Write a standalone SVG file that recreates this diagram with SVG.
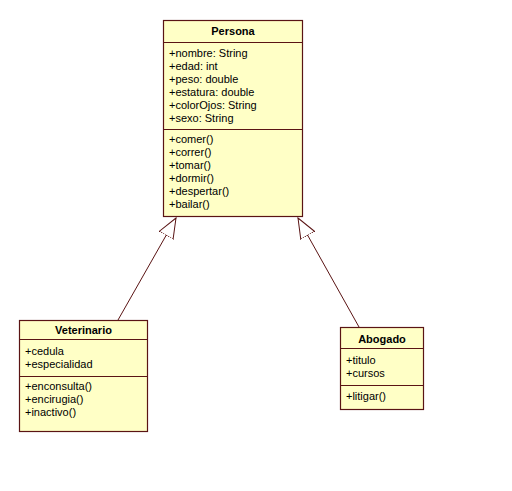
<svg xmlns="http://www.w3.org/2000/svg" width="512" height="491" viewBox="0 0 512 491">
<style>
.box{fill:#ffffc6;stroke:#5a1414;stroke-width:1.2}
.sep{stroke:#5a1414;stroke-width:1.2}
.t{font-family:"Liberation Sans",Arial,sans-serif;font-size:11px;fill:#000}
.b{font-weight:bold;text-anchor:middle}
.c{stroke:#5a1414;stroke-width:1;fill:none}
</style>
<defs>
<marker id="tri" markerUnits="userSpaceOnUse" markerWidth="22" markerHeight="18" viewBox="0 -9 22 18" refX="20" refY="0" orient="auto">
<path d="M0,-8 L20,0 L0,8 Z" fill="#fff" stroke="#5a1414" stroke-width="1"/>
</marker>
</defs>
<rect width="512" height="491" fill="#fff"/>
<g id="connectors">
<line class="c" x1="118" y1="320" x2="176" y2="218" marker-end="url(#tri)"/>
<line class="c" x1="359" y1="327" x2="298" y2="218" marker-end="url(#tri)"/>
</g>
<g id="Persona">
<rect class="box" x="163.5" y="20.5" width="139" height="196"/>
<line class="sep" x1="163.5" y1="42.5" x2="302.5" y2="42.5"/>
<line class="sep" x1="163.5" y1="129.5" x2="302.5" y2="129.5"/>
<text class="t b" x="233" y="35">Persona</text>
<text class="t" x="169" y="57">+nombre: String</text>
<text class="t" x="169" y="70">+edad: int</text>
<text class="t" x="169" y="83">+peso: double</text>
<text class="t" x="169" y="96">+estatura: double</text>
<text class="t" x="169" y="109">+colorOjos: String</text>
<text class="t" x="169" y="122">+sexo: String</text>
<text class="t" x="169" y="143">+comer()</text>
<text class="t" x="169" y="156">+correr()</text>
<text class="t" x="169" y="169">+tomar()</text>
<text class="t" x="169" y="182">+dormir()</text>
<text class="t" x="169" y="195">+despertar()</text>
<text class="t" x="169" y="208">+bailar()</text>
</g>
<g id="Veterinario">
<rect class="box" x="19.5" y="320.5" width="128" height="111"/>
<line class="sep" x1="19.5" y1="339.5" x2="147.5" y2="339.5"/>
<line class="sep" x1="19.5" y1="376.5" x2="147.5" y2="376.5"/>
<text class="t b" x="83.5" y="334">Veterinario</text>
<text class="t" x="25" y="355">+cedula</text>
<text class="t" x="25" y="368">+especialidad</text>
<text class="t" x="25" y="390">+enconsulta()</text>
<text class="t" x="25" y="403">+encirugia()</text>
<text class="t" x="25" y="416">+inactivo()</text>
</g>
<g id="Abogado">
<rect class="box" x="340.5" y="327.5" width="83" height="82"/>
<line class="sep" x1="340.5" y1="348.5" x2="423.5" y2="348.5"/>
<line class="sep" x1="340.5" y1="385.5" x2="423.5" y2="385.5"/>
<text class="t b" x="382" y="343">Abogado</text>
<text class="t" x="346" y="364">+titulo</text>
<text class="t" x="346" y="377">+cursos</text>
<text class="t" x="346" y="400">+litigar()</text>
</g>
</svg>
